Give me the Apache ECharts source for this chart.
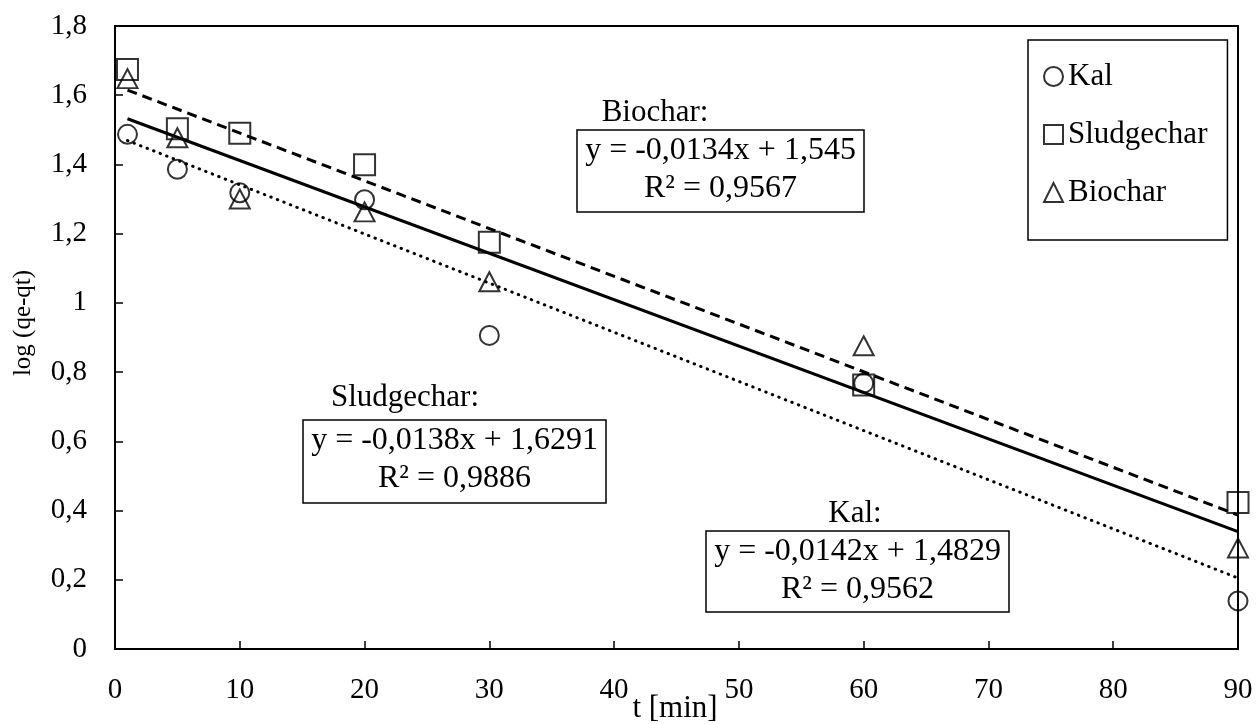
<!DOCTYPE html>
<html>
<head>
<meta charset="utf-8">
<script src="https://cdn.jsdelivr.net/npm/echarts@6/dist/echarts.min.js"></script>
<style>
  html, body { margin: 0; padding: 0; background: #fff; }
  #chart { width: 1257px; height: 724px; }
</style>
</head>
<body>
<div id="chart"></div>
<script>
// sampling times [min]
const times = [1, 5, 10, 20, 30, 60, 90];

// log (qe-qt)
const kal = [1.487, 1.386, 1.318, 1.298, 0.906, 0.768, 0.139];
const sludgechar = [1.674, 1.503, 1.490, 1.399, 1.175, 0.763, 0.423];
const biochar = [1.648, 1.477, 1.300, 1.263, 1.061, 0.876, 0.292];

// trend line ends (first and last time)
const trendX = [1, 90];
const kalTrend = [1.469, 0.205];
const sludgeTrend = [1.615, 0.387];
const bioTrend = [1.532, 0.339];

const FONT = "'Liberation Serif', 'Times New Roman', serif";

const chart = echarts.init(document.getElementById('chart'));

function pairs(xs, ys) {
    return xs.map((x, i) => [x, ys[i]]);
}

function markers(name, values, symbol, size) {
    return {
        name: name,
        type: 'scatter',
        symbol: symbol,
        symbolSize: size,
        data: pairs(times, values),
        itemStyle: { color: 'rgba(0,0,0,0)', borderColor: '#000', borderWidth: 2 },
        z: 3
    };
}

function trend(values, lineType, cap) {
    return {
        type: 'line',
        data: pairs(trendX, values),
        symbol: 'none',
        silent: true,
        lineStyle: { color: '#000', width: 3, type: lineType, cap: cap || 'butt' },
        z: 4
    };
}

function text(str, x, y, size, extra) {
    return Object.assign({
        type: 'text', x: x, y: y,
        style: { text: str, font: size + 'px ' + FONT, fill: '#000', textAlign: 'center', textVerticalAlign: 'middle' },
        z: 11
    }, extra || {});
}

// framed equation + R² label
function eqBox(box, eq, r2) {
    const cx = box[0] + box[2] / 2;
    return [
        {
            type: 'rect',
            shape: { x: box[0], y: box[1], width: box[2], height: box[3] },
            style: { fill: '#fff', stroke: '#000', lineWidth: 1.5 },
            z: 10
        },
        text(eq, cx, box[1] + 21, 32),
        text(r2, cx, box[1] + 59, 32)
    ];
}

const option = {
    backgroundColor: '#fff',
    animation: false,
    grid: {
        left: 115, right: 19, top: 26, bottom: 75,
        show: true, borderColor: '#000', borderWidth: 2,
        outerBoundsMode: 'none'
    },
    legend: {
        data: ['Kal', 'Sludgechar', 'Biochar'],
        orient: 'vertical',
        left: 1028, top: 40,
        padding: [21, 20, 32, 15],
        itemGap: 27,
        itemWidth: 19, itemHeight: 19,
        borderColor: '#000', borderWidth: 1.5,
        backgroundColor: '#fff',
        textStyle: { fontFamily: FONT, fontSize: 31, color: '#000' }
    },
    xAxis: {
        type: 'value',
        min: 0, max: 90, interval: 10,
        axisLine: { lineStyle: { color: '#000', width: 2 } },
        axisTick: { inside: true, length: 8, lineStyle: { color: '#000', width: 1.5 } },
        splitLine: { show: false },
        axisLabel: { color: '#000', fontFamily: FONT, fontSize: 29, margin: 27 }
    },
    yAxis: {
        type: 'value',
        min: 0, max: 1.8, interval: 0.2,
        axisLine: { show: true, lineStyle: { color: '#000', width: 2 } },
        axisTick: { show: true, inside: true, length: 8, lineStyle: { color: '#000', width: 1.5 } },
        splitLine: { show: false },
        axisLabel: {
            color: '#000', fontFamily: FONT, fontSize: 29, margin: 28,
            formatter: v => String(Number(v.toFixed(1))).replace('.', ',')
        }
    },
    series: [
        trend(sludgeTrend, [10, 6]),
        trend(bioTrend, 'solid'),
        trend(kalTrend, [0.5, 6.5], 'round'),
        markers('Kal', kal, 'circle', 19),
        markers('Sludgechar', sludgechar, 'rect', 21),
        markers('Biochar', biochar, 'triangle', [20, 19])
    ],
    graphic: [
        text('Biochar:', 655, 113, 31),
        ...eqBox([577, 130, 287, 82], 'y = -0,0134x + 1,545', 'R² = 0,9567'),
        text('Sludgechar:', 405, 398, 31),
        ...eqBox([303, 420, 303, 83], 'y = -0,0138x + 1,6291', 'R² = 0,9886'),
        text('Kal:', 855, 514, 31),
        ...eqBox([706, 531, 303, 81], 'y = -0,0142x + 1,4829', 'R² = 0,9562'),
        text('t [min]', 675, 709, 31),
        text('log (qe-qt)', 23, 323, 25, { rotation: Math.PI / 2 })
    ]
};

chart.setOption(option);
</script>
</body>
</html>
